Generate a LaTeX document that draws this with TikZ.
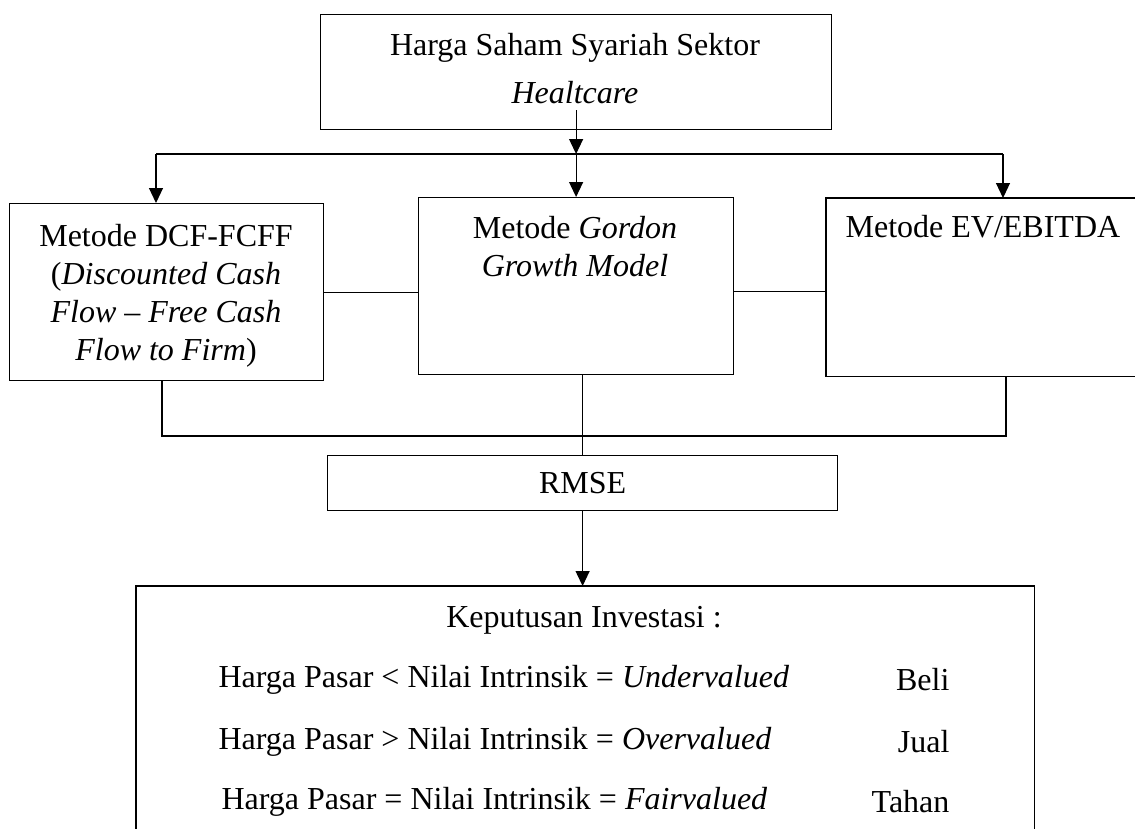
\documentclass[tikz,border=0pt]{standalone}
\usepackage{fontspec}
\setmainfont{Liberation Serif}
\usetikzlibrary{arrows.meta}
\begin{document}
\begin{tikzpicture}[x=1pt,y=-1pt, line width=1.2pt,
 box/.style={draw, rectangle, inner sep=0pt, anchor=north west},
 area/.style={rectangle, inner sep=0pt, anchor=north west},
 txt/.style={font=\fontsize{32}{38}\selectfont, align=center, inner sep=0pt},
 arr/.style={-{Triangle[width=14pt,length=15pt]}}]
\useasboundingbox (0,0) rectangle (1135,828);

% boxes
\node[box, minimum width=511pt, minimum height=115pt] (top) at (320,14) {};
\node[box, minimum width=314pt, minimum height=177pt] (lbox) at (9,203) {};
\node[box, minimum width=315pt, minimum height=177pt] (mbox) at (418,197) {};
\node[area, minimum width=309pt, minimum height=177pt] (rbox) at (826,198) {};
\node[box, minimum width=510pt, minimum height=55pt] (rmse) at (327,455) {};
\node[area, minimum width=897pt, minimum height=242pt] (dec) at (136,586) {};

\draw (rbox.north east) -- (rbox.north west) -- (rbox.south west) -- (rbox.south east);
\draw (dec.south west) -- (dec.north west) -- (dec.north east) -- (dec.south east);

% texts
\node[txt] (toptxt) at (575,69) {Harga Saham Syariah Sektor\\[10pt]\textit{Healtcare}};
\node[txt] (ltxt) at (166,296) {Metode DCF-FCFF\\(\textit{Discounted Cash}\\\textit{Flow -- Free Cash}\\\textit{Flow to Firm})};
\node[txt] (mtxt) at (575,247) {Metode \textit{Gordon}\\\textit{Growth Model}};
\node[txt, anchor=west] (rtxt) at (845,227) {Metode EV/EBITDA};
\node[txt] (rmsetxt) at (rmse.center) {RMSE};
\node[txt] (kep) at (584,620) {Keputusan Investasi :};
\node[txt, anchor=west] (c1) at (218,680) {Harga Pasar < Nilai Intrinsik = \textit{Undervalued}};
\node[txt, anchor=west] (c2) at (218,742) {Harga Pasar > Nilai Intrinsik = \textit{Overvalued}};
\node[txt, anchor=west] (c3) at (221,802) {Harga Pasar = Nilai Intrinsik = \textit{Fairvalued}};
\node[txt, anchor=east] (d1) at (950,680) {Beli};
\node[txt, anchor=east] (d2) at (950,742) {Jual};
\node[txt, anchor=east] (d3) at (950,802) {Tahan};

% top distribution
\coordinate (ts) at ([yshift=20pt]top.south);
\coordinate (hl) at (156,154);
\coordinate (hr) at (1003,154);
\coordinate (hm) at (top.south |- hl);
\draw[arr] (ts) -- (hm);
\draw (hl) -- (hr);
\draw[arr] (hm) -- (mbox.north);
\draw[arr] (hl) -- (hl |- lbox.north);
\draw[arr] (hr) -- (hr |- rbox.north);

% side links
\draw (lbox.east) -- (lbox.east -| mbox.west);
\draw ([yshift=-5pt]mbox.east) -- ([yshift=-5pt]mbox.east -| rbox.west);

% bottom collection
\coordinate (jl) at (162,436);
\coordinate (jr) at (1006,436);
\draw (lbox.south -| jl) -- (jl) -- (jr) -- (rbox.south -| jr);
\draw (rmse.north |- mbox.south) -- (rmse.north);
\draw[arr] (rmse.south) -- (rmse.south |- dec.north);
\end{tikzpicture}
\end{document}
